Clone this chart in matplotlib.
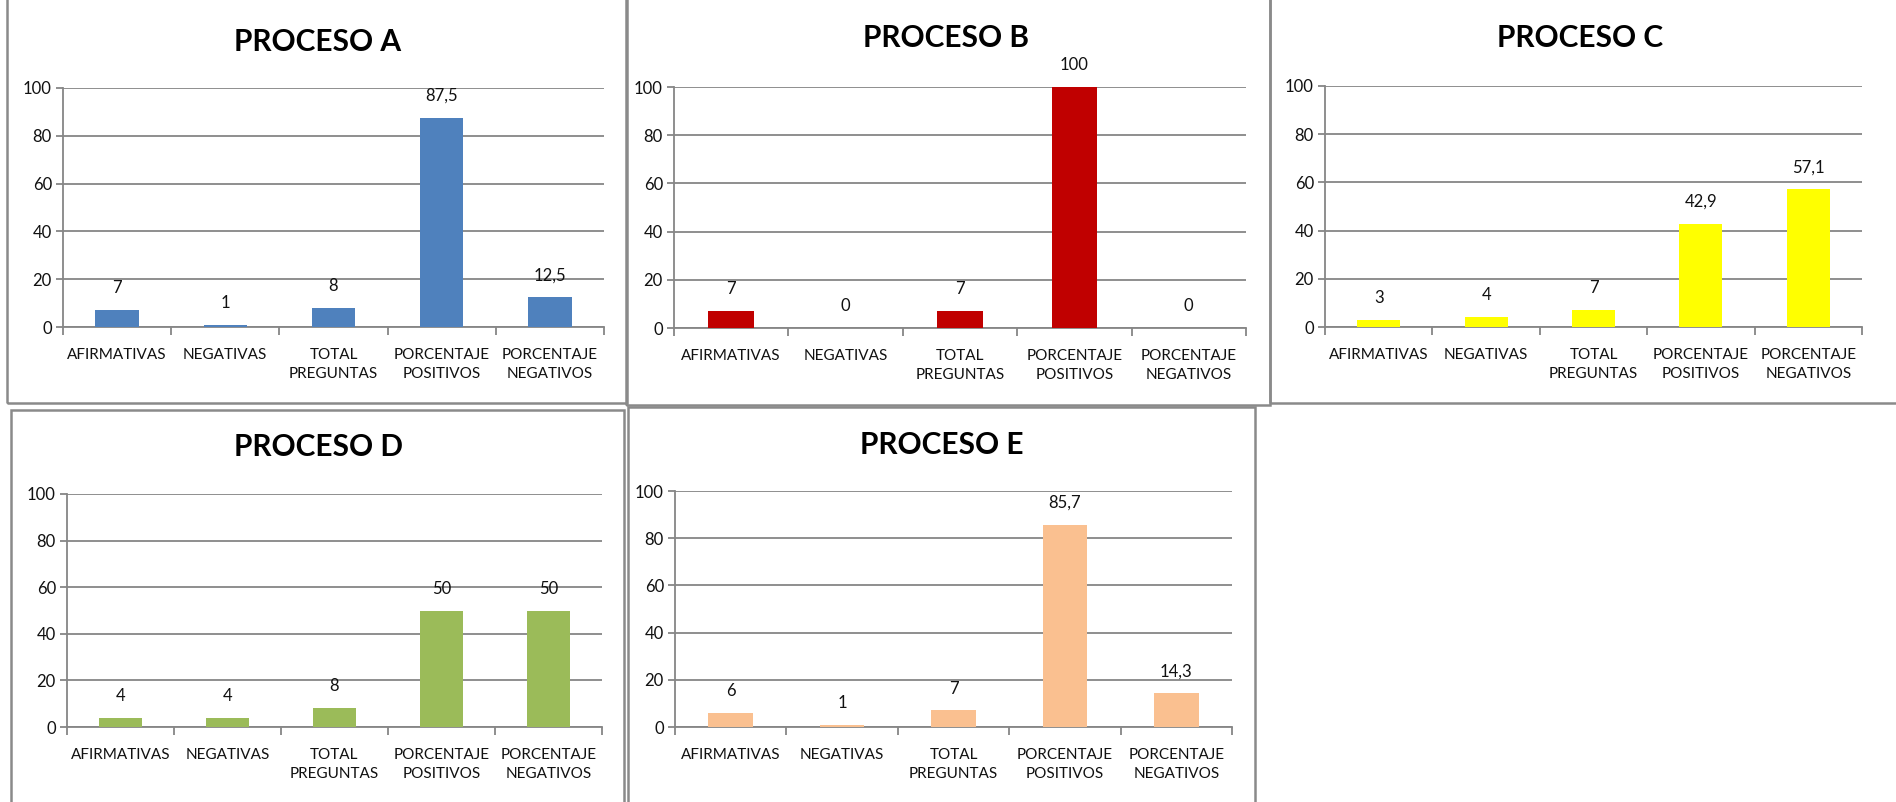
import matplotlib
matplotlib.use("Agg")
import matplotlib.pyplot as plt
from matplotlib.patches import Rectangle

plt.rcParams['font.family'] = ['Lato', 'DejaVu Sans']

# data
categorias = ["AFIRMATIVAS", "NEGATIVAS", "TOTAL\nPREGUNTAS",
              "PORCENTAJE\nPOSITIVOS", "PORCENTAJE\nNEGATIVOS"]
titulos = ["PROCESO A", "PROCESO B", "PROCESO C", "PROCESO D", "PROCESO E"]
valores_a = [7, 1, 8, 87.5, 12.5]
valores_b = [7, 0, 7, 100, 0]
valores_c = [3, 4, 7, 42.9, 57.1]
valores_d = [4, 4, 8, 50, 50]
valores_e = [6, 1, 7, 85.7, 14.3]
colores = ["#4F81BD", "#C00000", "#FFFF00", "#9BBB59", "#FAC090"]
y_ticks = [0, 20, 40, 60, 80, 100]

W, H = 1896, 802
fig = plt.figure(figsize=(W / 100, H / 100), dpi=100)

# pixel layout: panel box, axes (left, right, top, bottom), title center
paneles = [
    ((7, -3, 627, 403), (63, 604, 88, 327), (318, 42)),
    ((626, -3, 1270, 405), (674, 1246, 87, 328), (946, 38)),
    ((1270, -3, 1899, 403), (1325, 1862, 86, 327), (1580, 38)),
    ((11, 410, 624, 806), (67, 602, 494, 727), (318, 447)),
    ((628, 407, 1255, 806), (675, 1232, 491, 727), (942, 445)),
]
series = [valores_a, valores_b, valores_c, valores_d, valores_e]
GRIS = "#868686"
TEXTO = "#111111"


def fx(x):
    return x / W


def fy(y):
    return 1 - y / H


for (caja, eje, tit), vals, color, titulo in zip(paneles, series, colores, titulos):
    x0, y0, x1, y1 = caja
    fig.patches.append(Rectangle((fx(x0), fy(y1)), fx(x1 - x0), (y1 - y0) / H,
                                 transform=fig.transFigure, fill=False,
                                 edgecolor="#8a8a8a", linewidth=1.8, zorder=0))
    l, r, t, b = eje
    ax = fig.add_axes([fx(l), fy(b), fx(r - l), (b - t) / H])
    pos = range(len(vals))
    ax.bar(pos, vals, width=0.4, color=color, zorder=3)
    ax.set_xlim(-0.5, len(vals) - 0.5)
    ax.set_ylim(0, 100)
    ax.set_yticks(y_ticks)
    ax.yaxis.grid(True, color=GRIS, linewidth=1.3, zorder=0)
    ax.set_axisbelow(True)
    for s in ["top", "right"]:
        ax.spines[s].set_visible(False)
    for s in ["left", "bottom"]:
        ax.spines[s].set_color(GRIS)
        ax.spines[s].set_linewidth(1.3)
    ax.set_xticks(list(pos))
    ax.set_xticklabels(categorias, fontsize=11, color=TEXTO, linespacing=1.45)
    ax.set_xticks([p - 0.5 for p in range(len(vals) + 1)], minor=True)
    ax.tick_params(axis="x", which="major", length=0, pad=15)
    ax.tick_params(axis="x", which="minor", length=6, color=GRIS, width=1.3)
    ax.tick_params(axis="y", length=5, color=GRIS, width=1.3, labelsize=12,
                   labelcolor=TEXTO, pad=3)
    for p, v in zip(pos, vals):
        txt = f"{v:g}".replace(".", ",")
        ax.annotate(txt, (p, v), xytext=(0, 10), textcoords="offset points",
                    ha="center", va="bottom", fontsize=12, color=TEXTO)
    fig.text(fx(tit[0]), fy(tit[1]), titulo, ha="center", va="center",
             fontsize=21.5, fontweight="bold", color="black")

fig.savefig("out.png", dpi=100)
